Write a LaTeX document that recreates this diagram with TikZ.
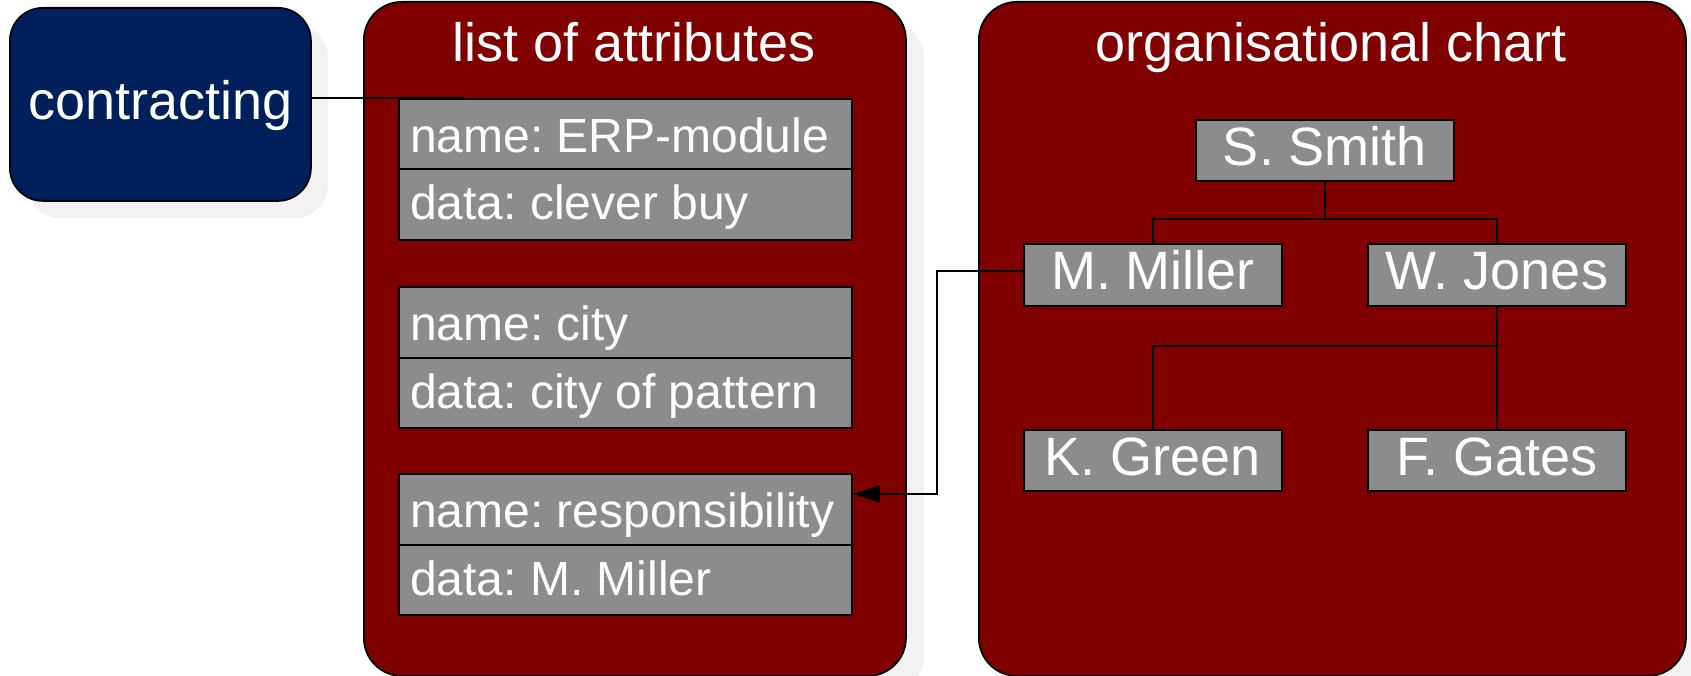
\documentclass[tikz,border=0pt]{standalone}
\usepackage{fontspec}
\setmainfont{Liberation Sans}
\usetikzlibrary{arrows.meta,shadows}
\definecolor{navyc}{RGB}{0,32,91}
\definecolor{maroonc}{RGB}{128,0,0}
\definecolor{boxgray}{RGB}{140,140,140}
\definecolor{shadowc}{RGB}{242,242,242}
\frenchspacing
\tikzset{
  container/.style={draw=black, line width=1.8pt, fill=maroonc, rounded corners=38pt,
    anchor=north west, inner sep=0pt,
    general shadow={fill=shadowc, shadow xshift=18pt, shadow yshift=-18pt}},
  titletext/.style={text=white, anchor=base, inner sep=0pt, font=\fontsize{54}{60}\selectfont},
  attrrow/.style={draw=black, line width=2pt, fill=boxgray, anchor=north west,
    minimum width=453pt, minimum height=70.5pt, inner sep=0pt},
  attrtext/.style={anchor=base west, inner sep=0pt, text=white, font=\fontsize{48}{56}\selectfont},
  personbox/.style={draw=black, line width=2pt, fill=boxgray, anchor=north west,
    minimum width=258pt, minimum height=61.5pt, inner sep=0pt,
    text=white, text height=40pt, text depth=10pt, font=\fontsize{54}{60}\selectfont},
  connector/.style={draw=black, line width=1.8pt},
}
\begin{document}
\begin{tikzpicture}[x=1pt,y=-1pt]
\useasboundingbox (0,0) rectangle (1691,676);
% contracting
\node[draw=black, line width=1.8pt, fill=navyc, rounded corners=33pt, anchor=north west,
  minimum width=301pt, minimum height=193pt, inner sep=0pt,
  general shadow={fill=shadowc, shadow xshift=17pt, shadow yshift=-17pt},
  text=white, text height=40pt, text depth=10pt, font=\fontsize{54}{60}\selectfont]
  (contracting) at (9,7) {contracting};
% containers
\node[container, minimum width=542pt, minimum height=674pt] (listc) at (363,1) {};
\node[container, minimum width=707pt, minimum height=674pt] (orgc) at (978,1) {};
\node[titletext] (listtitle) at (634,62) {list of attributes};
\node[titletext] (orgtitle) at (1331,62) {organisational chart};
% attribute boxes (row frames)
\node[attrrow] (erpn) at (398,98) {};
\node[attrrow] (erpd) at (398,168.5) {};
\node[attrrow] (cityn) at (398,286) {};
\node[attrrow] (cityd) at (398,356.5) {};
\node[attrrow] (respn) at (398,473) {};
\node[attrrow] (respd) at (398,543.5) {};
\node[attrtext] (erpnt) at ([xshift=12pt,yshift=18pt]erpn.south west) {name: ERP-module};
\node[attrtext] (erpdt) at ([xshift=12pt,yshift=21pt]erpd.south west) {data: clever buy};
\node[attrtext] (citynt) at ([xshift=12pt,yshift=18pt]cityn.south west) {name: city};
\node[attrtext] (citydt) at ([xshift=12pt,yshift=21pt]cityd.south west) {data: city of pattern};
\node[attrtext] (respnt) at ([xshift=12pt,yshift=18pt]respn.south west) {name: responsibility};
\node[attrtext] (respdt) at ([xshift=12pt,yshift=21pt]respd.south west) {data: M. Miller};
% org chart
\node[personbox] (smith) at (1195,119) {S. Smith};
\node[personbox] (miller) at (1023,243) {M. Miller};
\node[personbox] (jones) at (1367,243) {W. Jones};
\node[personbox] (green) at (1023,428.5) {K. Green};
\node[personbox] (gates) at (1367,428.5) {F. Gates};
\coordinate (lvl1) at (0,219);
\coordinate (lvl2) at (0,346);
\draw[connector] (smith.south) -- (smith.south |- lvl1);
\draw[connector] (miller.north) |- (jones.north |- lvl1) -- (jones.north);
\draw[connector] (jones.south) -- (gates.north);
\draw[connector] (green.north) |- (jones.south |- lvl2);
% connectors between parts
\coordinate (cend) at (465,98);
\draw[connector] (contracting.east |- cend) -- (cend);
\coordinate (bend) at (937,494);
\draw[connector, -{Triangle[length=27pt,width=17pt]}] (miller.west |- 0,271) -| (bend) -- (respn.east |- bend);
\end{tikzpicture}
\end{document}
